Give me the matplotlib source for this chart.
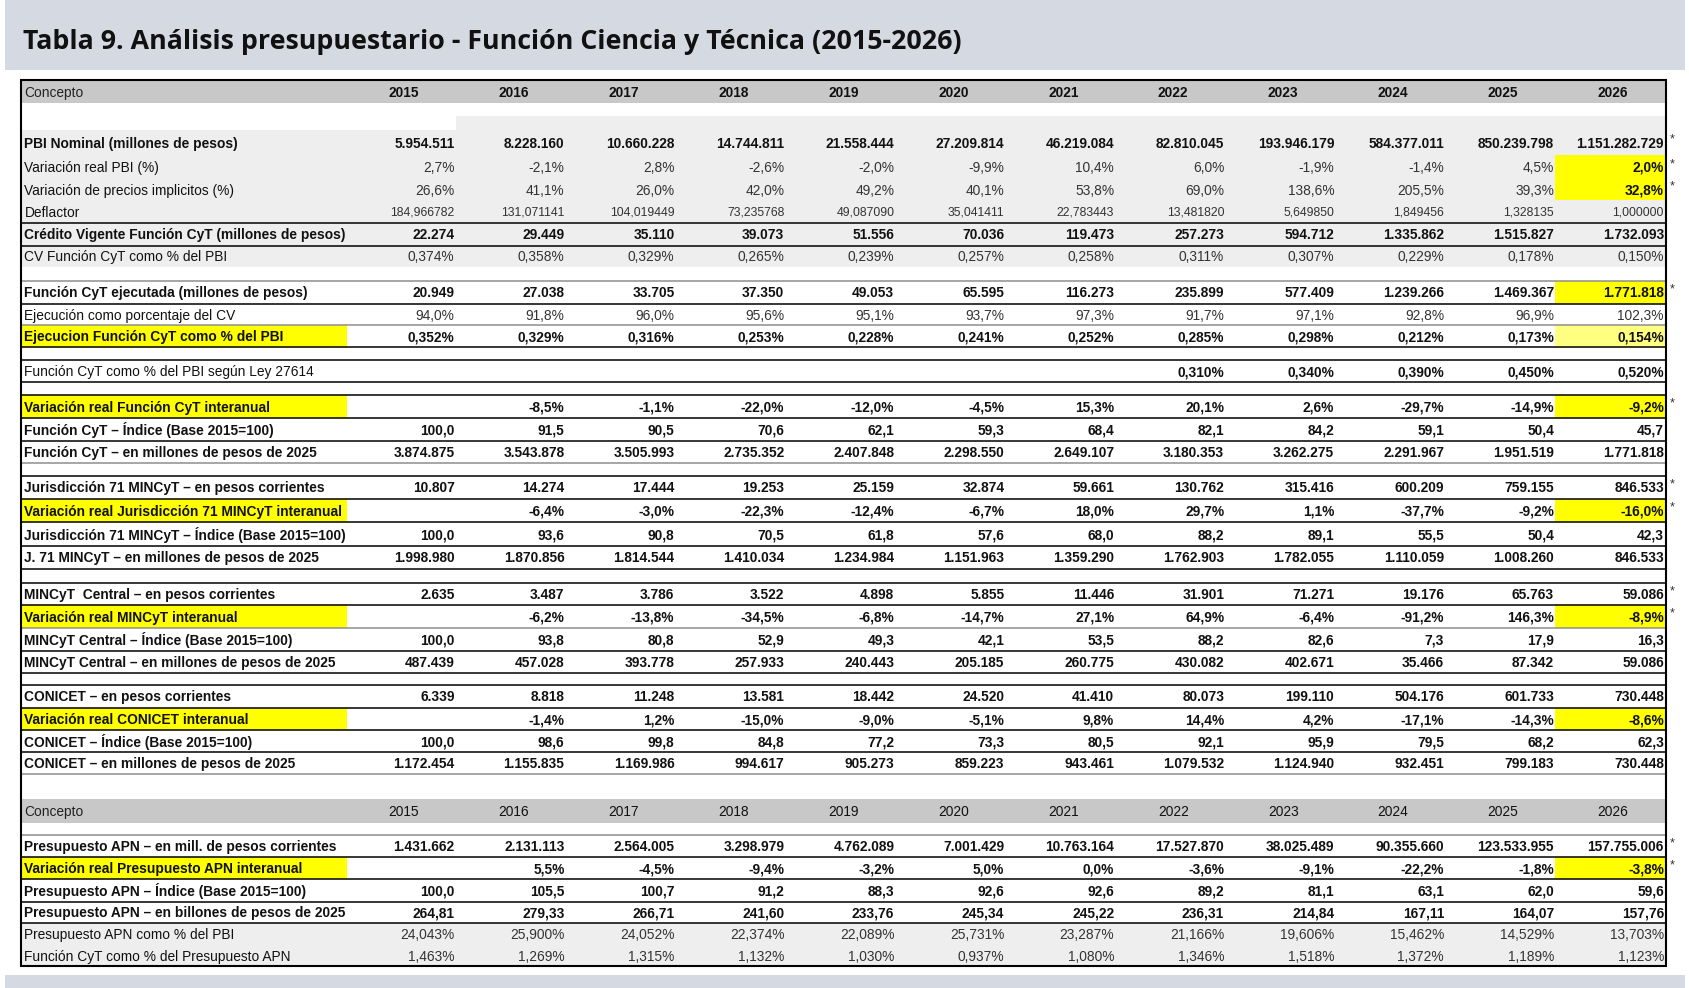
import matplotlib
matplotlib.use('Agg')
import matplotlib.pyplot as plt
from matplotlib.patches import Rectangle

years = [2015, 2016, 2017, 2018, 2019, 2020, 2021, 2022, 2023, 2024, 2025, 2026]

pbi_nominal = [5954511, 8228160, 10660228, 14744811, 21558444, 27209814, 46219084,
               82810045, 193946179, 584377011, 850239798, 1151282729]
var_real_pbi = [2.7, -2.1, 2.8, -2.6, -2.0, -9.9, 10.4, 6.0, -1.9, -1.4, 4.5, 2.0]
var_precios = [26.6, 41.1, 26.0, 42.0, 49.2, 40.1, 53.8, 69.0, 138.6, 205.5, 39.3, 32.8]
deflactor = [184.966782, 131.071141, 104.019449, 73.235768, 49.087090, 35.041411,
             22.783443, 13.481820, 5.649850, 1.849456, 1.328135, 1.000000]
credito_vigente = [22274, 29449, 35110, 39073, 51556, 70036, 119473, 257273, 594712,
                   1335862, 1515827, 1732093]
cv_pct_pbi = [0.374, 0.358, 0.329, 0.265, 0.239, 0.257, 0.258, 0.311, 0.307, 0.229, 0.178, 0.150]
cyt_ejecutada = [20949, 27038, 33705, 37350, 49053, 65595, 116273, 235899, 577409,
                 1239266, 1469367, 1771818]
ejec_pct_cv = [94.0, 91.8, 96.0, 95.6, 95.1, 93.7, 97.3, 91.7, 97.1, 92.8, 96.9, 102.3]
ejec_pct_pbi = [0.352, 0.329, 0.316, 0.253, 0.228, 0.241, 0.252, 0.285, 0.298, 0.212, 0.173, 0.154]
ley_27614 = [None, None, None, None, None, None, None, 0.310, 0.340, 0.390, 0.450, 0.520]
var_real_cyt = [None, -8.5, -1.1, -22.0, -12.0, -4.5, 15.3, 20.1, 2.6, -29.7, -14.9, -9.2]
indice_cyt = [100.0, 91.5, 90.5, 70.6, 62.1, 59.3, 68.4, 82.1, 84.2, 59.1, 50.4, 45.7]
cyt_2025 = [3874875, 3543878, 3505993, 2735352, 2407848, 2298550, 2649107, 3180353,
            3262275, 2291967, 1951519, 1771818]
j71_corr = [10807, 14274, 17444, 19253, 25159, 32874, 59661, 130762, 315416, 600209,
            759155, 846533]
var_j71 = [None, -6.4, -3.0, -22.3, -12.4, -6.7, 18.0, 29.7, 1.1, -37.7, -9.2, -16.0]
indice_j71 = [100.0, 93.6, 90.8, 70.5, 61.8, 57.6, 68.0, 88.2, 89.1, 55.5, 50.4, 42.3]
j71_2025 = [1998980, 1870856, 1814544, 1410034, 1234984, 1151963, 1359290, 1762903,
            1782055, 1110059, 1008260, 846533]
mincyt_corr = [2635, 3487, 3786, 3522, 4898, 5855, 11446, 31901, 71271, 19176, 65763, 59086]
var_mincyt = [None, -6.2, -13.8, -34.5, -6.8, -14.7, 27.1, 64.9, -6.4, -91.2, 146.3, -8.9]
indice_mincyt = [100.0, 93.8, 80.8, 52.9, 49.3, 42.1, 53.5, 88.2, 82.6, 7.3, 17.9, 16.3]
mincyt_2025 = [487439, 457028, 393778, 257933, 240443, 205185, 260775, 430082, 402671,
               35466, 87342, 59086]
conicet_corr = [6339, 8818, 11248, 13581, 18442, 24520, 41410, 80073, 199110, 504176,
                601733, 730448]
var_conicet = [None, -1.4, 1.2, -15.0, -9.0, -5.1, 9.8, 14.4, 4.2, -17.1, -14.3, -8.6]
indice_conicet = [100.0, 98.6, 99.8, 84.8, 77.2, 73.3, 80.5, 92.1, 95.9, 79.5, 68.2, 62.3]
conicet_2025 = [1172454, 1155835, 1169986, 994617, 905273, 859223, 943461, 1079532,
                1124940, 932451, 799183, 730448]
apn_corr = [1431662, 2131113, 2564005, 3298979, 4762089, 7001429, 10763164, 17527870,
            38025489, 90355660, 123533955, 157755006]
var_apn = [None, 5.5, -4.5, -9.4, -3.2, 5.0, 0.0, -3.6, -9.1, -22.2, -1.8, -3.8]
indice_apn = [100.0, 105.5, 100.7, 91.2, 88.3, 92.6, 92.6, 89.2, 81.1, 63.1, 62.0, 59.6]
apn_2025 = [264.81, 279.33, 266.71, 241.60, 233.76, 245.34, 245.22, 236.31, 214.84,
            167.11, 164.07, 157.76]
apn_pct_pbi = [24.043, 25.900, 24.052, 22.374, 22.089, 25.731, 23.287, 21.166, 19.606,
               15.462, 14.529, 13.703]
cyt_pct_apn = [1.463, 1.269, 1.315, 1.132, 1.030, 0.937, 1.080, 1.346, 1.518, 1.372, 1.189, 1.123]

title = 'Tabla 9. Análisis presupuestario - Función Ciencia y Técnica (2015-2026)'


def fmt(v, dec=0, pct=False):
    if v is None:
        return ''
    s = f'{v:,.{dec}f}'.replace(',', 'X').replace('.', ',').replace('X', '.')
    return s + ('%' if pct else '')


# rows: label, values, decimals, pct, bold label, bold values, top, bottom (layout units),
# line below, options
Y, G = 'y', 'ly'
rows = [
    ('PBI Nominal (millones de pesos)', pbi_nominal, 0, False, True, True, 121, 144, None, dict(bg=True, star=True)),
    ('Variación real PBI (%)', var_real_pbi, 1, True, False, False, 144, 166, None, dict(bg=True, star=True, last=Y)),
    ('Variación de precios implicitos (%)', var_precios, 1, True, False, False, 166, 186, None, dict(bg=True, star=True, last=Y)),
    ('Deflactor', deflactor, 6, False, False, False, 186, 207, 'k', dict(bg=True, small=True)),
    ('Crédito Vigente Función CyT (millones de pesos)', credito_vigente, 0, False, True, True, 207, 228, 'k', dict(bg=True)),
    ('CV Función CyT como % del PBI', cv_pct_pbi, 3, True, False, False, 228, 248, None, dict(bg=True)),
    ('Función CyT ejecutada (millones de pesos)', cyt_ejecutada, 0, False, True, True, 261, 282, 'k', dict(star=True, last=Y, top='g')),
    ('Ejecución como porcentaje del CV', ejec_pct_cv, 1, True, False, False, 282, 302, 'g', dict()),
    ('Ejecucion Función CyT como % del PBI', ejec_pct_pbi, 3, True, True, True, 302, 322, 'k', dict(ylab=True, last=G)),
    ('Función CyT como % del PBI según Ley 27614', ley_27614, 3, True, False, True, 334, 355, 'k', dict(top='k')),
    ('Variación real Función CyT interanual', var_real_cyt, 1, True, True, True, 367, 388, 'k', dict(ylab=True, last=Y, star=True, top='k')),
    ('Función CyT – Índice (Base 2015=100)', indice_cyt, 1, False, True, True, 388, 409, 'k', dict()),
    ('Función CyT – en millones de pesos de 2025', cyt_2025, 0, False, True, True, 409, 430, 'g', dict()),
    ('Jurisdicción 71 MINCyT – en pesos corrientes', j71_corr, 0, False, True, True, 442, 463, 'k', dict(star=True, top='k')),
    ('Variación real Jurisdicción 71 MINCyT interanual', var_j71, 1, True, True, True, 463, 485, 'k', dict(ylab=True, last=Y, star=True)),
    ('Jurisdicción 71 MINCyT – Índice (Base 2015=100)', indice_j71, 1, False, True, True, 485, 507, 'k', dict()),
    ('J. 71 MINCyT – en millones de pesos de 2025', j71_2025, 0, False, True, True, 507, 528, 'k', dict()),
    ('MINCyT  Central – en pesos corrientes', mincyt_corr, 0, False, True, True, 541, 562, 'k', dict(star=True, top='k')),
    ('Variación real MINCyT interanual', var_mincyt, 1, True, True, True, 562, 583, 'g', dict(ylab=True, last=Y, star=True)),
    ('MINCyT Central – Índice (Base 2015=100)', indice_mincyt, 1, False, True, True, 583, 604, 'k', dict()),
    ('MINCyT Central – en millones de pesos de 2025', mincyt_2025, 0, False, True, True, 604, 625, 'k', dict()),
    ('CONICET – en pesos corrientes', conicet_corr, 0, False, True, True, 636, 657, 'k', dict(top='k')),
    ('Variación real CONICET interanual', var_conicet, 1, True, True, True, 657, 678, 'k', dict(ylab=True, last=Y)),
    ('CONICET – Índice (Base 2015=100)', indice_conicet, 1, False, True, True, 678, 698, 'k', dict()),
    ('CONICET – en millones de pesos de 2025', conicet_2025, 0, False, True, True, 698, 719, 'g', dict()),
    ('Presupuesto APN – en mill. de pesos corrientes', apn_corr, 0, False, True, True, 775, 796, 'k', dict(star=True, top='g')),
    ('Variación real Presupuesto APN interanual', var_apn, 1, True, True, True, 796, 816, 'k', dict(ylab=True, last=Y, star=True)),
    ('Presupuesto APN – Índice (Base 2015=100)', indice_apn, 1, False, True, True, 816, 837, 'k', dict()),
    ('Presupuesto APN – en billones de pesos de 2025', apn_2025, 2, False, True, True, 837, 857, 'k', dict()),
    ('Presupuesto APN como % del PBI', apn_pct_pbi, 3, True, False, False, 857, 878, None, dict(bg=True)),
    ('Función CyT como % del Presupuesto APN', cyt_pct_apn, 3, True, False, False, 878, 897, None, dict(bg=True)),
]

S = 1689 / 1568
W, H = 1689, 988
X0, X1 = 21.5, 1666.5          # table border
C0 = 345.6                      # left edge of the 2015 column
CW = (X1 - 1.5 - C0) / 12       # column width
YLAB_R = 347
FONT = 'Liberation Sans'
FS = 9.9
HEAD_GREY = '#c8c8c8'
LIGHT_GREY = '#eeeeee'
BAND = '#d5d9e2'
YELLOW = '#ffff00'
LIGHT_YELLOW = '#ffff80'
LINE_GREY = '#8e8e8e'

fig = plt.figure(figsize=(W / 100, H / 100), dpi=100)
ax = fig.add_axes([0, 0, 1, 1])
ax.set_xlim(0, W)
ax.set_ylim(H, 0)
ax.axis('off')


def rect(x0, y0, x1, y1, color):
    ax.add_patch(Rectangle((x0, y0), x1 - x0, y1 - y0, facecolor=color,
                           edgecolor='none', zorder=1))


def hline(y, color):
    c = 'black' if color == 'k' else LINE_GREY
    ax.plot([X0, X1], [y, y], color=c, lw=1.1, zorder=3, solid_capstyle='butt')


# title band and bottom band
rect(5, 0, 1685, 70, BAND)
rect(5, 975, 1685, 988, BAND)
ax.text(23, 42, title, ha='left', va='center', fontsize=19.3, fontweight='bold',
        family='Open Sans', color='#111111', zorder=4)

# light grey block on top of the table
rect(C0 + CW, 108 * S, X1, 121 * S, LIGHT_GREY)


def header(top, bottom, bold):
    rect(X0, top * S, X1, bottom * S, HEAD_GREY)
    yc = (top + bottom) / 2 * S + 1
    ax.text(X0 + 3, yc, 'Concepto', ha='left', va='center', fontsize=FS,
            family=FONT, color='#222222', zorder=4)
    for i, yr in enumerate(years):
        ax.text(C0 + CW * (i + 0.5) + 3, yc, str(yr), ha='center', va='center',
                fontsize=FS, family=FONT, fontweight='bold' if bold else 'normal',
                color='#111111', zorder=4)


header(74, 96, True)
header(742, 764, False)

for label, vals, dec, pct, blab, bval, top, bot, below, opt in rows:
    y0, y1 = top * S, bot * S
    yc = (y0 + y1) / 2 + 1
    if opt.get('bg'):
        rect(X0, y0, X1, y1, LIGHT_GREY)
    if opt.get('ylab'):
        rect(X0, y0, YLAB_R, y1, YELLOW)
    if opt.get('last'):
        rect(C0 + CW * 11, y0, X1, y1, YELLOW if opt['last'] == Y else LIGHT_YELLOW)
    if opt.get('top'):
        hline(y0, opt['top'])
    if below:
        hline(y1, below)
    ax.text(X0 + 3, yc, label, ha='left', va='center', fontsize=FS, family=FONT,
            fontweight='bold' if blab else 'normal', color='#111111', zorder=4)
    fs = 8.8 if opt.get('small') else FS
    for i, v in enumerate(vals):
        bold = bval or (i == 11 and opt.get('last') == Y)
        ax.text(C0 + CW * (i + 1) - 1, yc, fmt(v, dec, pct), ha='right', va='center',
                fontsize=fs, family=FONT, fontweight='bold' if bold else 'normal',
                color='#111111' if bold else '#333333', zorder=4)
    if opt.get('star'):
        ax.text(X1 + 3, yc - 4, '*', ha='left', va='center', fontsize=9,
                family=FONT, color='#333333', zorder=4)

# outer border
ax.add_patch(Rectangle((X0, 74 * S), X1 - X0, (897 - 74) * S, facecolor='none',
                       edgecolor='black', lw=1.5, zorder=5))

fig.savefig('out.png', dpi=100)
